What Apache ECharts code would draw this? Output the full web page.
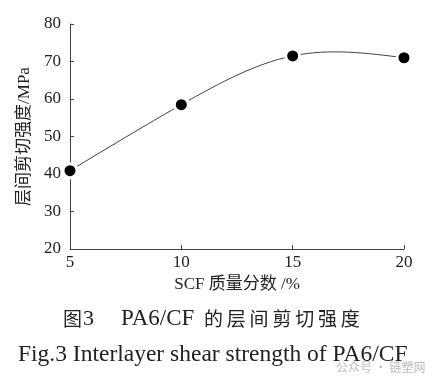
<!DOCTYPE html>
<html><head><meta charset="utf-8">
<script src="https://cdn.jsdelivr.net/npm/echarts@6/dist/echarts.min.js"></script>
<style>html,body{margin:0;padding:0;background:#fff}#c{width:434px;height:383px}</style>
</head><body><div id="c"></div>
<script>
var massFraction = [5, 10, 15, 20];
var shearStrength = [40.9, 58.5, 71.5, 71.0];
var xTicks = [5, 10, 15, 20];
var yTicks = [20, 30, 40, 50, 60, 70, 80];
var xName = 'SCF 质量分数 /%';
var yName = '层间剪切强度/MPa';
var captionCnLead = '图';
var captionCnNum = '3';
var captionCnLatin = 'PA6/CF';
var captionCnTail = '的层间剪切强度';
var captionEn = 'Fig.3 Interlayer shear strength of PA6/CF';
var watermark = '公众号 · 链塑网';

var pts = massFraction.map(function (x, i) { return [x, shearStrength[i]]; });

// natural cubic spline second derivatives (the curve shape through the measured points)
function splineM(xs, ys) {
  var n = xs.length, h = [], M = new Array(n).fill(0);
  for (var i = 0; i < n - 1; i++) h.push(xs[i + 1] - xs[i]);
  if (n < 3) return M;
  var a = [], b = [], c = [], d = [];
  for (var i = 1; i < n - 1; i++) {
    a.push(h[i - 1]); b.push(2 * (h[i - 1] + h[i])); c.push(h[i]);
    d.push(6 * ((ys[i + 1] - ys[i]) / h[i] - (ys[i] - ys[i - 1]) / h[i - 1]));
  }
  var m = b.length;
  for (var i = 1; i < m; i++) {
    var w = a[i] / b[i - 1];
    b[i] -= w * c[i - 1]; d[i] -= w * d[i - 1];
  }
  var sol = new Array(m);
  sol[m - 1] = d[m - 1] / b[m - 1];
  for (var i = m - 2; i >= 0; i--) sol[i] = (d[i] - c[i] * sol[i + 1]) / b[i];
  for (var i = 0; i < m; i++) M[i + 1] = sol[i];
  return M;
}
var M2 = splineM(massFraction, shearStrength);

var serif = '"Liberation Serif", "DejaVu Serif", "Noto Sans CJK SC", serif';
var cjk = '"Noto Sans CJK SC", "Liberation Serif", sans-serif';
var ink = '#222';

var graphics = [];
graphics.push({ type: 'text', x: 63, y: 319, style: { text: captionCnLead, font: '19px ' + cjk, fill: ink, textVerticalAlign: 'middle' } });
graphics.push({ type: 'text', x: 83, y: 319, style: { text: captionCnNum, font: '22px ' + serif, fill: ink, textVerticalAlign: 'middle' } });
graphics.push({ type: 'text', x: 121, y: 319, style: { text: captionCnLatin, font: '23px ' + serif, fill: ink, textVerticalAlign: 'middle' } });
captionCnTail.split('').forEach(function (ch, i) {
  graphics.push({ type: 'text', x: 204 + i * 22.8, y: 319, style: { text: ch, font: '19px ' + cjk, fill: ink, textVerticalAlign: 'middle' } });
});
graphics.push({ type: 'text', x: 18, y: 355, style: { text: captionEn, font: '23.5px ' + serif, fill: ink, textVerticalAlign: 'middle' } });
graphics.push({ type: 'text', x: 336, y: 367, z: 100, style: { text: watermark, font: '12px ' + cjk, fill: 'rgba(140,140,140,0.6)', textVerticalAlign: 'middle' } });

var chart = echarts.init(document.getElementById('c'));
chart.setOption({
  backgroundColor: '#fff',
  animation: false,
  grid: { left: 70, right: 30, top: 24, bottom: 134 },
  xAxis: {
    type: 'value', min: 5, max: 20, interval: 5,
    name: xName, nameLocation: 'middle', nameGap: 26,
    nameTextStyle: { fontFamily: serif, fontSize: 17, color: ink },
    axisLine: { lineStyle: { color: '#444', width: 1 } },
    axisTick: { inside: true, length: 4, lineStyle: { color: '#444' } },
    axisLabel: { fontFamily: serif, fontSize: 17, color: ink, margin: 5 },
    splitLine: { show: false }
  },
  yAxis: {
    type: 'value', min: 20, max: 80, interval: 10,
    name: yName, nameLocation: 'middle', nameGap: 31,
    nameTextStyle: { fontFamily: serif, fontSize: 17, color: ink },
    axisLine: { show: true, lineStyle: { color: '#444', width: 1 } },
    axisTick: { show: true, inside: true, length: 4, lineStyle: { color: '#444' } },
    axisLabel: { fontFamily: serif, fontSize: 17, color: ink, margin: 9 },
    splitLine: { show: false }
  },
  series: [
    {
      type: 'custom', data: pts, encode: { x: 0, y: 1 }, z: 2, silent: true,
      renderItem: function (params, api) {
        var i = params.dataIndex, xs = massFraction, ys = shearStrength;
        if (i >= xs.length - 1) return null;
        var h = xs[i + 1] - xs[i];
        var dy = (ys[i + 1] - ys[i]) / h;
        var s0 = dy - h * (2 * M2[i] + M2[i + 1]) / 6;
        var s1 = dy + h * (M2[i] + 2 * M2[i + 1]) / 6;
        var p0 = api.coord([xs[i], ys[i]]);
        var c1 = api.coord([xs[i] + h / 3, ys[i] + s0 * h / 3]);
        var c2 = api.coord([xs[i + 1] - h / 3, ys[i + 1] - s1 * h / 3]);
        var p1 = api.coord([xs[i + 1], ys[i + 1]]);
        return {
          type: 'bezierCurve',
          shape: { x1: p0[0], y1: p0[1], cpx1: c1[0], cpy1: c1[1], cpx2: c2[0], cpy2: c2[1], x2: p1[0], y2: p1[1] },
          style: { stroke: '#444', lineWidth: 1, fill: null }
        };
      }
    },
    { type: 'scatter', data: pts, symbolSize: 17, itemStyle: { color: '#fff', opacity: 1 }, z: 3, silent: true },
    { type: 'scatter', data: pts, symbolSize: 11, itemStyle: { color: '#000', opacity: 1 }, z: 4 }
  ],
  graphic: graphics
});
</script></body></html>
